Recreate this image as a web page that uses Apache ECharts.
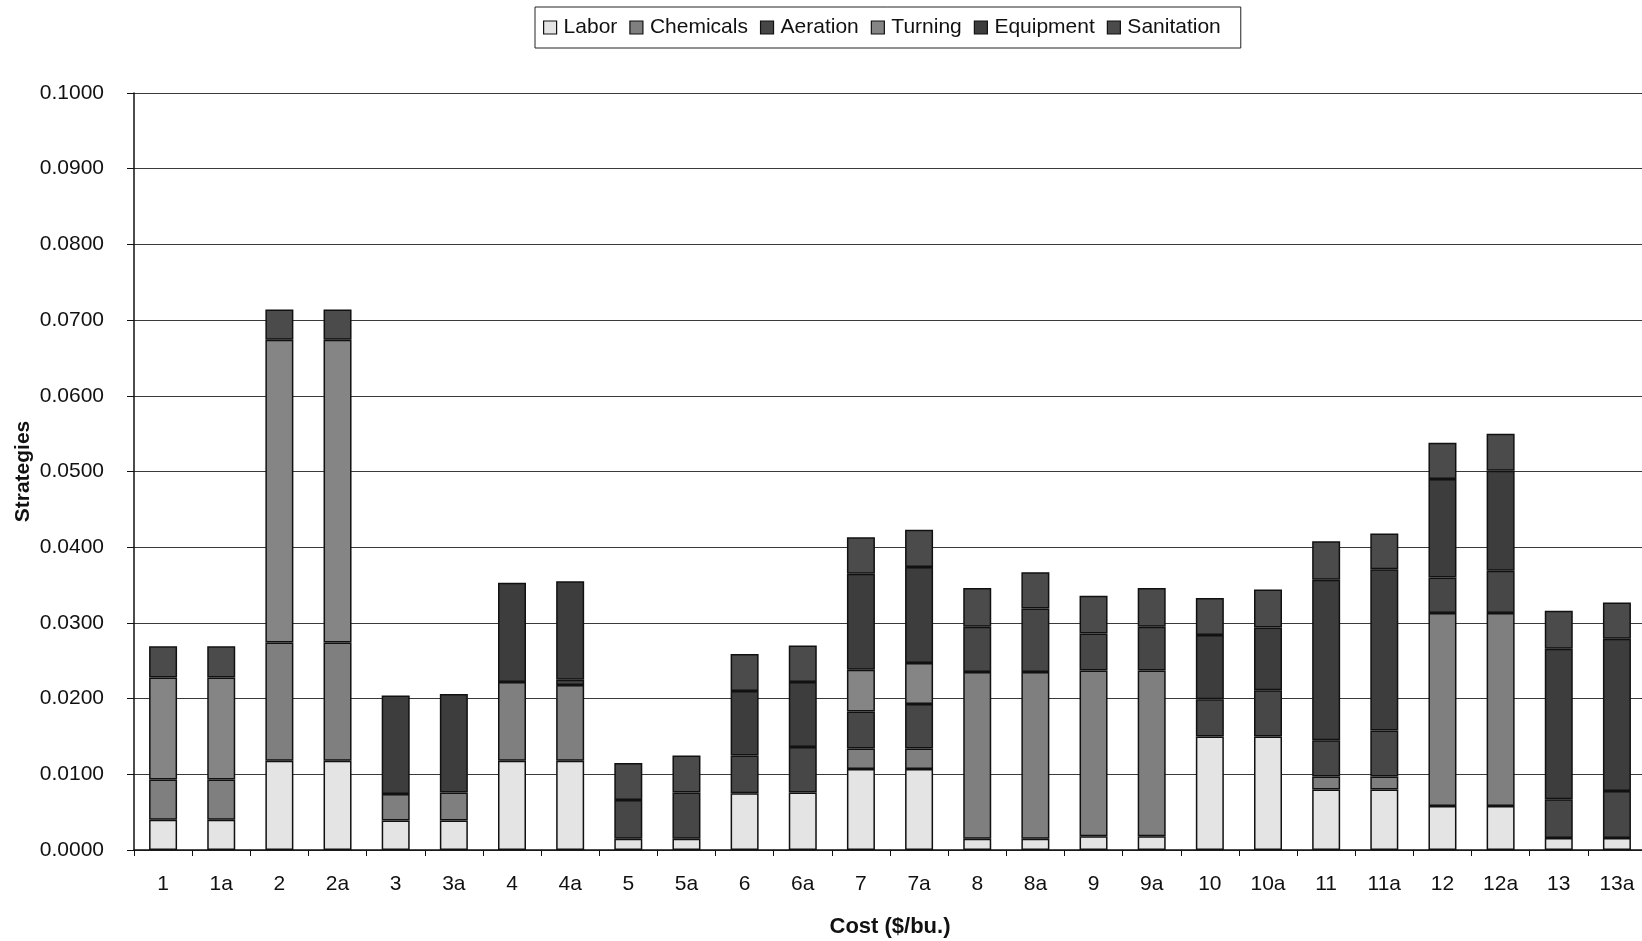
<!DOCTYPE html>
<html>
<head>
<meta charset="utf-8">
<title>Cost by strategy</title>
<script src="https://cdn.jsdelivr.net/npm/echarts@6/dist/echarts.min.js"></script>
<style>
  html, body { margin: 0; padding: 0; background: #ffffff; }
  #chart { width: 1642px; height: 941px; }
</style>
</head>
<body>
<div id="chart"></div>
<script>
// Strategies along the category axis
const categories = ['1','1a','2','2a','3','3a','4','4a','5','5a','6','6a','7','7a','8','8a','9','9a','10','10a','11','11a','12','12a','13','13a'];

// Cost components ($/bu.) per strategy, stacked bottom to top
const labor      = [0.0040,0.0040,0.0118,0.0118,0.0039,0.0039,0.0118,0.0118,0.0015,0.0015,0.0075,0.0076,0.0107,0.0107,0.0015,0.0015,0.0018,0.0018,0.0150,0.0150,0.0080,0.0080,0.0058,0.0058,0.0016,0.0016];
const chemicals  = [0.0053,0.0053,0.0156,0.0156,0.0035,0.0037,0.0104,0.0100,0,0,0,0,0.0027,0.0027,0.0220,0.0220,0.0219,0.0219,0,0,0.0017,0.0017,0.0255,0.0255,0,0];
const aeration   = [0,0,0,0,0,0,0,0.0007,0.0051,0.0061,0.0050,0.0060,0.0049,0.0059,0.0060,0.0084,0.0049,0.0058,0.0049,0.0061,0.0048,0.0061,0.0047,0.0056,0.0051,0.0062];
const turning    = [0.0135,0.0135,0.0400,0.0400,0,0,0,0,0,0,0,0,0.0055,0.0054,0,0,0,0,0,0,0,0,0,0,0,0];
const equipment  = [0,0,0,0,0.0130,0.0130,0.0131,0.0130,0,0,0.0085,0.0086,0.0127,0.0127,0,0,0,0,0.0085,0.0083,0.0212,0.0213,0.0130,0.0132,0.0199,0.0201];
const sanitation = [0.0041,0.0041,0.0040,0.0040,0,0,0,0,0.0049,0.0049,0.0049,0.0048,0.0048,0.0049,0.0051,0.0048,0.0050,0.0051,0.0049,0.0050,0.0051,0.0047,0.0048,0.0049,0.0050,0.0048];

const seriesNames = ['Labor','Chemicals','Aeration','Turning','Equipment','Sanitation'];
const seriesData  = [labor, chemicals, aeration, turning, equipment, sanitation];
const seriesColors = ['#e4e4e4','#7f7f7f','#474747','#858585','#3d3d3d','#4b4b4b'];

const FONT = '"Liberation Sans", Arial, Helvetica, sans-serif';

const chart = echarts.init(document.getElementById('chart'), null, { renderer: 'canvas' });

const series = seriesNames.map((name, i) => ({
  name: name,
  type: 'bar',
  stack: 'cost',
  barWidth: 28,
  // empty components are left out so no zero-height outline is drawn
  data: seriesData[i].map(v => (v === 0 ? '-' : v)),
  itemStyle: {
    color: seriesColors[i],
    borderColor: '#111111',
    borderWidth: 1.5
  },
  emphasis: { disabled: true }
}));

chart.setOption({
  animation: false,
  backgroundColor: '#ffffff',
  legend: {
    data: seriesNames,
    left: 535,
    top: 7,
    orient: 'horizontal',
    icon: 'rect',
    itemWidth: 13,
    itemHeight: 13,
    itemGap: 12,
    padding: [10, 20, 10, 8],
    borderColor: '#222222',
    borderWidth: 1,
    backgroundColor: '#ffffff',
    selectedMode: false,
    itemStyle: { borderColor: '#111111', borderWidth: 1.2 },
    textStyle: {
      fontFamily: FONT,
      fontSize: 21,
      color: '#111111',
      padding: [0, 0, 0, 2]
    }
  },
  grid: {
    left: 134,
    right: -4,
    top: 93,
    bottom: 91,
    containLabel: false,
    outerBoundsMode: 'none'
  },
  xAxis: {
    type: 'category',
    data: categories,
    boundaryGap: true,
    name: 'Cost ($/bu.)',
    nameLocation: 'middle',
    nameGap: 66,
    nameTextStyle: {
      fontFamily: FONT,
      fontSize: 22,
      fontWeight: 'bold',
      color: '#111111'
    },
    axisLine: { show: true, lineStyle: { color: '#111111', width: 1.5 } },
    axisTick: { show: true, length: 6, lineStyle: { color: '#111111', width: 1 } },
    axisLabel: {
      fontFamily: FONT,
      fontSize: 21,
      color: '#111111',
      margin: 24,
      interval: 0
    },
    splitLine: { show: false }
  },
  yAxis: {
    type: 'value',
    min: 0,
    max: 0.1,
    interval: 0.01,
    name: 'Strategies',
    nameLocation: 'middle',
    nameGap: 100,
    nameMoveOverlap: false,
    nameRotate: 90,
    nameTextStyle: {
      fontFamily: FONT,
      fontSize: 21,
      fontWeight: 'bold',
      color: '#111111'
    },
    axisLine: { show: true, lineStyle: { color: '#111111', width: 1.5 } },
    axisTick: { show: true, length: 7, lineStyle: { color: '#111111', width: 1 } },
    axisLabel: {
      fontFamily: FONT,
      fontSize: 21,
      color: '#111111',
      margin: 30,
      formatter: v => v.toFixed(4)
    },
    splitLine: { show: true, lineStyle: { color: '#3a3a3a', width: 1.2 } }
  },
  series: series
});
</script>
</body>
</html>
